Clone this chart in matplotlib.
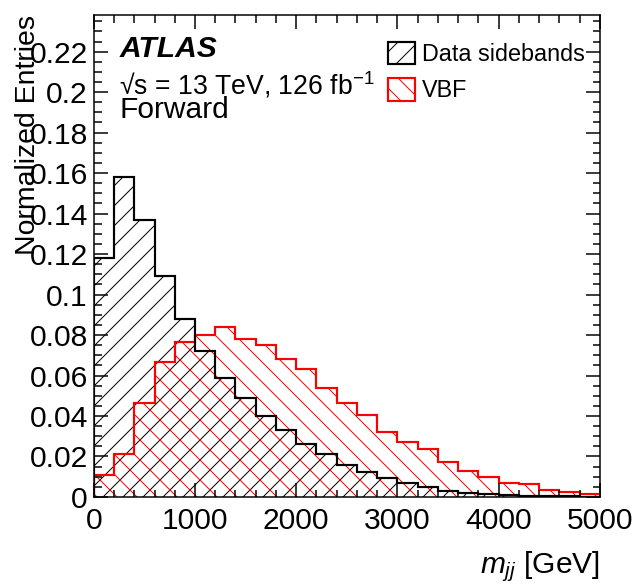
import numpy as np
import matplotlib
matplotlib.use("Agg")
from matplotlib import pyplot as plt
from matplotlib.patches import Patch
from matplotlib.ticker import MultipleLocator, FormatStrFormatter

bin_edges = np.arange(0, 5001, 200)
data_sidebands = [0.118, 0.158, 0.137, 0.109, 0.088, 0.072, 0.059, 0.049, 0.040, 0.033,
                  0.026, 0.021, 0.016, 0.0125, 0.0095, 0.0071, 0.0048, 0.0031, 0.0021, 0.0013,
                  0.0009, 0.0007, 0.0004, 0.0003, 0.0002]
vbf = [0.011, 0.021, 0.0466, 0.0665, 0.0765, 0.080, 0.084, 0.078, 0.075, 0.068,
       0.063, 0.054, 0.0466, 0.0405, 0.0323, 0.0273, 0.0237, 0.0171, 0.0130, 0.0100,
       0.0071, 0.0063, 0.0035, 0.0023, 0.0015]

font = "Liberation Sans"
plt.rcParams["font.family"] = [font, "DejaVu Sans"]
plt.rcParams["mathtext.fontset"] = "custom"
plt.rcParams["mathtext.rm"] = font
plt.rcParams["mathtext.it"] = font + ":italic"
plt.rcParams["hatch.linewidth"] = 0.6

DPI = 120
fig = plt.figure(figsize=(634 / DPI, 584 / DPI), dpi=DPI)
ax = fig.add_axes([0.148, 0.149, 0.798, 0.825])

# hatched fills
ax.stairs(data_sidebands, bin_edges, fill=True, facecolor="none", edgecolor="black",
          hatch="//", linewidth=0)
ax.stairs(vbf, bin_edges, fill=True, facecolor="none", edgecolor="red",
          hatch="\\\\", linewidth=0)
# outlines
ax.stairs(vbf, bin_edges, color="red", linewidth=1.3)
ax.stairs(data_sidebands, bin_edges, color="black", linewidth=1.3)

ax.set_xlim(0, 5000)
ax.set_ylim(0, 0.238)
ax.xaxis.set_major_locator(MultipleLocator(1000))
ax.xaxis.set_minor_locator(MultipleLocator(200))
ax.yaxis.set_major_locator(MultipleLocator(0.02))
ax.yaxis.set_minor_locator(MultipleLocator(0.005))
ax.yaxis.set_major_formatter(FormatStrFormatter("%g"))
ax.tick_params(which="both", direction="in", top=True, right=True, labelsize=18, width=0.9)
ax.tick_params(which="major", length=8.5)
ax.tick_params(which="minor", length=4.5)
ax.tick_params(axis="x", pad=6)
for s in ax.spines.values():
    s.set_linewidth(0.9)

ax.set_ylabel("Normalized Entries", fontsize=17, ha="right", va="center")
ax.yaxis.set_label_coords(-0.13, 1.0)
ax.set_xlabel(r"$m_{jj}$ [GeV]", fontsize=18, ha="right", va="center")
ax.xaxis.set_label_coords(1.0, -0.145)

ax.text(0.05, 0.93, "ATLAS", transform=ax.transAxes, fontsize=18, fontweight="bold",
        fontstyle="italic", va="center")
ax.text(0.05, 0.855, "√s = 13 TeV, 126 fb$^{\\mathrm{-1}}$", transform=ax.transAxes,
        fontsize=16, va="center")
ax.text(0.05, 0.803, "Forward", transform=ax.transAxes, fontsize=18, va="center")

handles = [Patch(facecolor="none", edgecolor="black", hatch="//", linewidth=1.3, label="Data sidebands"),
           Patch(facecolor="none", edgecolor="red", hatch="\\\\", linewidth=1.3, label="VBF")]
ax.legend(handles=handles, loc="upper left", bbox_to_anchor=(0.582, 0.945), frameon=False,
          fontsize=14, handlelength=1.15, handleheight=1.1, handletextpad=0.3, labelspacing=0.53,
          borderaxespad=0, borderpad=0)

fig.savefig("out.png", dpi=DPI)
